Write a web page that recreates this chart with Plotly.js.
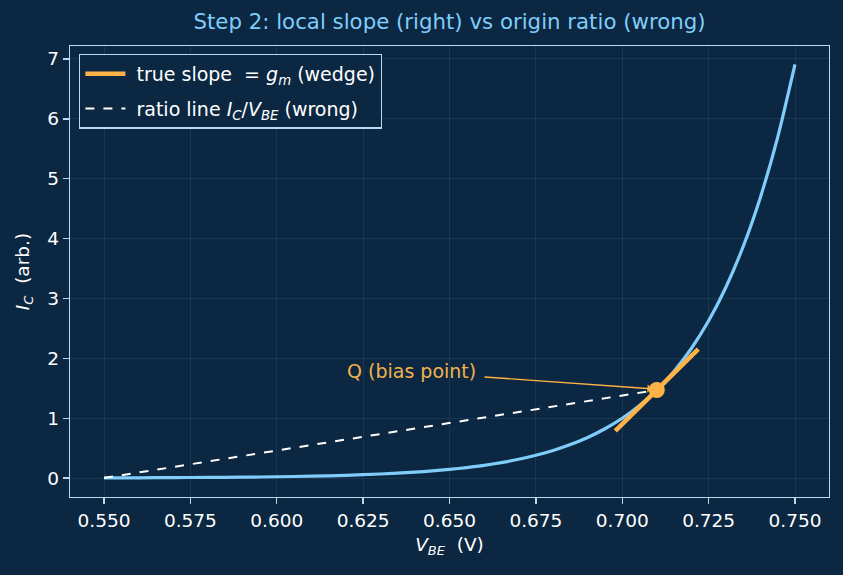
<!DOCTYPE html>
<html><head><meta charset="utf-8">
<script src="https://cdn.plot.ly/plotly-3.0.1.min.js"></script>
<style>html,body{margin:0;padding:0;background:#0c2741;}</style>
</head><body>
<div id="chart" style="width:843px;height:575px;"></div>
<script>
// I_C vs V_BE
const vbe = [0.550,0.560,0.570,0.580,0.590,0.600,0.610,0.620,0.630,0.640,0.645,0.650,0.655,0.660,0.665,0.670,0.675,0.680,0.685,0.690,0.695,0.700,0.705,0.710,0.715,0.720,0.725,0.730,0.735,0.740,0.745,0.750];
const ic  = [0.003,0.004,0.007,0.010,0.014,0.021,0.031,0.045,0.067,0.098,0.119,0.144,0.175,0.212,0.258,0.313,0.380,0.461,0.559,0.678,0.823,0.998,1.211,1.470,1.784,2.164,2.626,3.187,3.867,4.692,5.694,6.910];
// tangent (g_m wedge) at Q
const slopeV = [0.698, 0.722];
const slopeI = [0.787, 2.153];
// origin-ratio line
const ratioV = [0.550, 0.710];
const ratioI = [0.000, 1.470];
// bias point Q
const qV = [0.710];
const qI = [1.470];
const xTicks = [0.550,0.575,0.600,0.625,0.650,0.675,0.700,0.725,0.750];
const xTickText = ["0.550","0.575","0.600","0.625","0.650","0.675","0.700","0.725","0.750"];
const yTicks = [0,1,2,3,4,5,6,7];

const bg = '#0c2741';
const axisCol = '#b9d9f0';
const gridCol = 'rgba(160,200,235,0.10)';
const blue = '#7fcdfb';
const orange = '#ffb347';
const font = 'DejaVu Sans';

const traces = [
  {x: vbe, y: ic, mode: 'lines', line: {color: blue, width: 3.2, shape: 'spline', smoothing: 0.6}, showlegend: false, hoverinfo: 'skip'},
  {x: slopeV, y: slopeI, mode: 'lines', line: {color: orange, width: 4.5}, name: '\u00a0true slope  = <i>g</i><sub><i>m</i></sub> (wedge)', legendgroup: 'a'},
  {x: ratioV, y: ratioI, mode: 'lines', line: {color: '#ffffff', width: 2, dash: 'dash'}, name: '\u00a0ratio line <i>I</i><sub><i>C</i></sub>/<i>V</i><sub><i>BE</i></sub> (wrong)', legendgroup: 'b'},
  {x: qV, y: qI, mode: 'markers', marker: {color: orange, size: 16}, showlegend: false}
];

const layout = {
  width: 843, height: 575,
  paper_bgcolor: bg, plot_bgcolor: bg,
  margin: {l: 70, r: 14, t: 46, b: 78},
  font: {family: font, color: '#ffffff', size: 18},
  title: {text: 'Step 2: local slope (right) vs origin ratio (wrong)', font: {family: font, size: 21.3, color: blue}, xref: 'paper', x: 0.5, xanchor: 'center', yref: 'container', y: 0.962, yanchor: 'middle'},
  xaxis: {
    range: [0.54016, 0.75984], tickvals: xTicks, ticktext: xTickText,
    showline: true, mirror: true, linecolor: axisCol, linewidth: 1.3,
    ticks: 'outside', ticklen: 6, tickcolor: axisCol, tickwidth: 1.3, tickfont: {size: 18.5, color: '#ffffff'},
    showgrid: true, gridcolor: gridCol, gridwidth: 1, zeroline: false,
    title: {text: '<i>V</i><sub><i>BE</i></sub>  (V)', font: {size: 18.5, color: '#ffffff'}, standoff: 8}
  },
  yaxis: {
    range: [-0.317, 7.217], tickvals: yTicks,
    showline: true, mirror: true, linecolor: axisCol, linewidth: 1.3,
    ticks: 'outside', ticklen: 6, tickcolor: axisCol, tickwidth: 1.3, tickfont: {size: 18.5, color: '#ffffff'},
    showgrid: true, gridcolor: gridCol, gridwidth: 1, zeroline: false,
    title: {text: '<i>I</i><sub><i>C</i></sub>  (arb.)', font: {size: 18.5, color: '#ffffff'}, standoff: 12}
  },
  legend: {
    x: 0.012, y: 0.983, xanchor: 'left', yanchor: 'top',
    bgcolor: bg, bordercolor: axisCol, borderwidth: 1.3,
    font: {size: 19, color: '#ffffff'}, tracegroupgap: 7, traceorder: 'grouped', itemwidth: 40
  },
  annotations: [{
    x: qV[0] - 0.0015, y: qI[0] + 0.02, ax: 0.6597, ay: 1.69, axref: 'x', ayref: 'y',
    text: '', showarrow: true, arrowhead: 1, arrowsize: 1, arrowwidth: 1.4, arrowcolor: orange, standoff: 0
  }, {
    x: 0.6583, y: 1.79, xref: 'x', yref: 'y', xanchor: 'right', yanchor: 'middle',
    text: 'Q (bias point)', showarrow: false, font: {size: 19, color: '#f2b24e'}
  }]
};

Plotly.newPlot('chart', traces, layout, {displayModeBar: false, staticPlot: true});
</script>
</body></html>
